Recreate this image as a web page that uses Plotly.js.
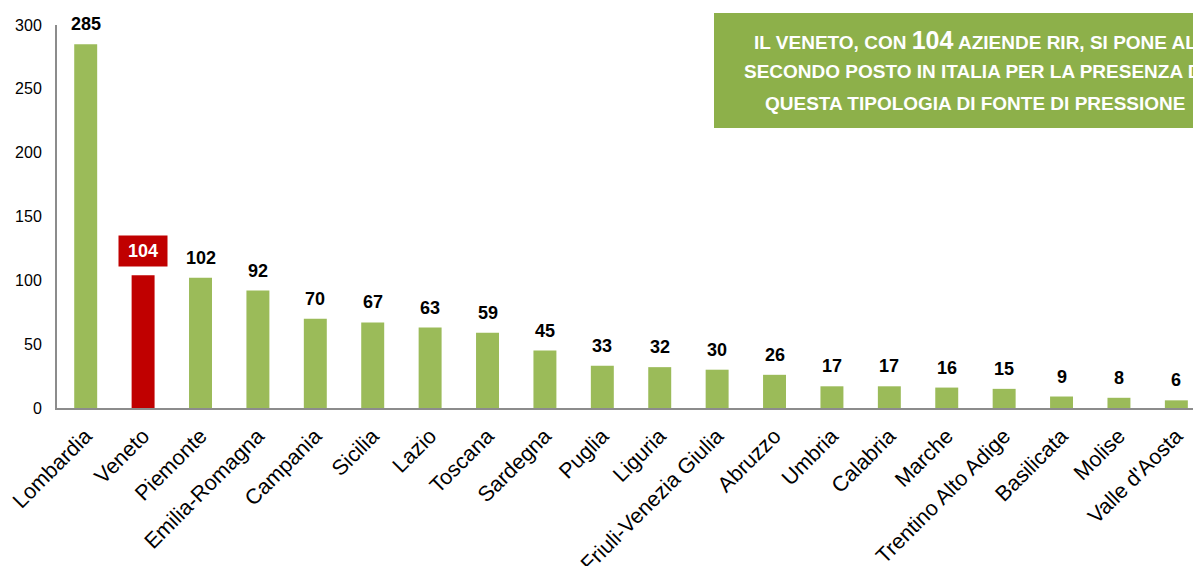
<!DOCTYPE html>
<html>
<head>
<meta charset="utf-8">
<script src="https://cdn.plot.ly/plotly-3.0.1.min.js"></script>
<style>html,body{margin:0;padding:0;background:#fff;}#chart{width:1193px;height:566px;}</style>
</head>
<body>
<div id="chart"></div>
<script>
const regions = ["Lombardia","Veneto","Piemonte","Emilia-Romagna","Campania","Sicilia","Lazio","Toscana","Sardegna","Puglia","Liguria","Friuli-Venezia Giulia","Abruzzo","Umbria","Calabria","Marche","Trentino Alto Adige","Basilicata","Molise","Valle d'Aosta"];
const aziende = [285,104,102,92,70,67,63,59,45,33,32,30,26,17,17,16,15,9,8,6];
const highlight = "Veneto";
const yTicks = [0,50,100,150,200,250,300];
const boxLines = [
  'IL VENETO, CON <span style="font-size:25px">104</span> AZIENDE RIR, SI PONE AL',
  'SECONDO POSTO IN ITALIA PER LA PRESENZA DI',
  'QUESTA TIPOLOGIA DI FONTE DI PRESSIONE'
];

const FONT = "Liberation Sans, Arial, sans-serif";
const colors = regions.map(r => r === highlight ? "#C00000" : "#9BBB59");

const annotations = regions.map((r, i) => {
  const hl = r === highlight;
  return {
    x: r, y: aziende[i], xref: "x", yref: "y",
    text: "<b>" + aziende[i] + "</b>",
    showarrow: false,
    yanchor: hl ? "bottom" : "middle",
    yshift: hl ? 8 : 20,
    font: {family: FONT, size: 18, color: hl ? "#FFFFFF" : "#000000"},
    bgcolor: hl ? "#C00000" : "rgba(0,0,0,0)",
    width: hl ? 44 : undefined,
    height: hl ? 26 : undefined,
    borderpad: hl ? 2 : 1
  };
});

const boxCenterX = (975 - 57) / 1136;
const lineY = [39.5, 71, 103];
boxLines.forEach((t, k) => {
  annotations.push({
    xref: "paper", yref: "paper",
    x: boxCenterX, y: 1 + (25 - lineY[k]) / 383,
    xanchor: "center", yanchor: "middle",
    text: "<b>" + t + "</b>",
    showarrow: false,
    font: {family: FONT, size: 19, color: "#FFFFFF"}
  });
});

const data = [{
  type: "bar",
  x: regions,
  y: aziende,
  width: 0.4,
  marker: {color: colors},
  hoverinfo: "x+y"
}];

const layout = {
  width: 1193, height: 566,
  margin: {l: 57, r: 0, t: 25, b: 158},
  paper_bgcolor: "#FFFFFF",
  plot_bgcolor: "#FFFFFF",
  showlegend: false,
  font: {family: FONT, color: "#000000"},
  xaxis: {
    type: "category",
    range: [-0.5, 19.29],
    tickangle: -45,
    tickfont: {family: FONT, size: 21.5, color: "#000000"},
    showline: true, linecolor: "#8C8C8C", linewidth: 2,
    showgrid: false, zeroline: false, ticks: "",
    ticklabelstandoff: 5
  },
  yaxis: {
    range: [0, 300],
    tickvals: yTicks,
    ticktext: yTicks.map(String),
    tickfont: {family: FONT, size: 16, color: "#000000"},
    showline: true, linecolor: "#8C8C8C", linewidth: 2,
    showgrid: false, zeroline: false, ticks: "",
    ticklabelstandoff: 10
  },
  shapes: [{
    type: "rect", xref: "paper", yref: "paper",
    x0: (714 - 57) / 1136, x1: (1240 - 57) / 1136,
    y0: 1 + (25 - 128) / 383, y1: 1 + (25 - 13) / 383,
    fillcolor: "#8DB04A", line: {width: 0}, layer: "above"
  }],
  annotations: annotations
};

Plotly.newPlot("chart", data, layout, {displayModeBar: false, staticPlot: true});
</script>
</body>
</html>
